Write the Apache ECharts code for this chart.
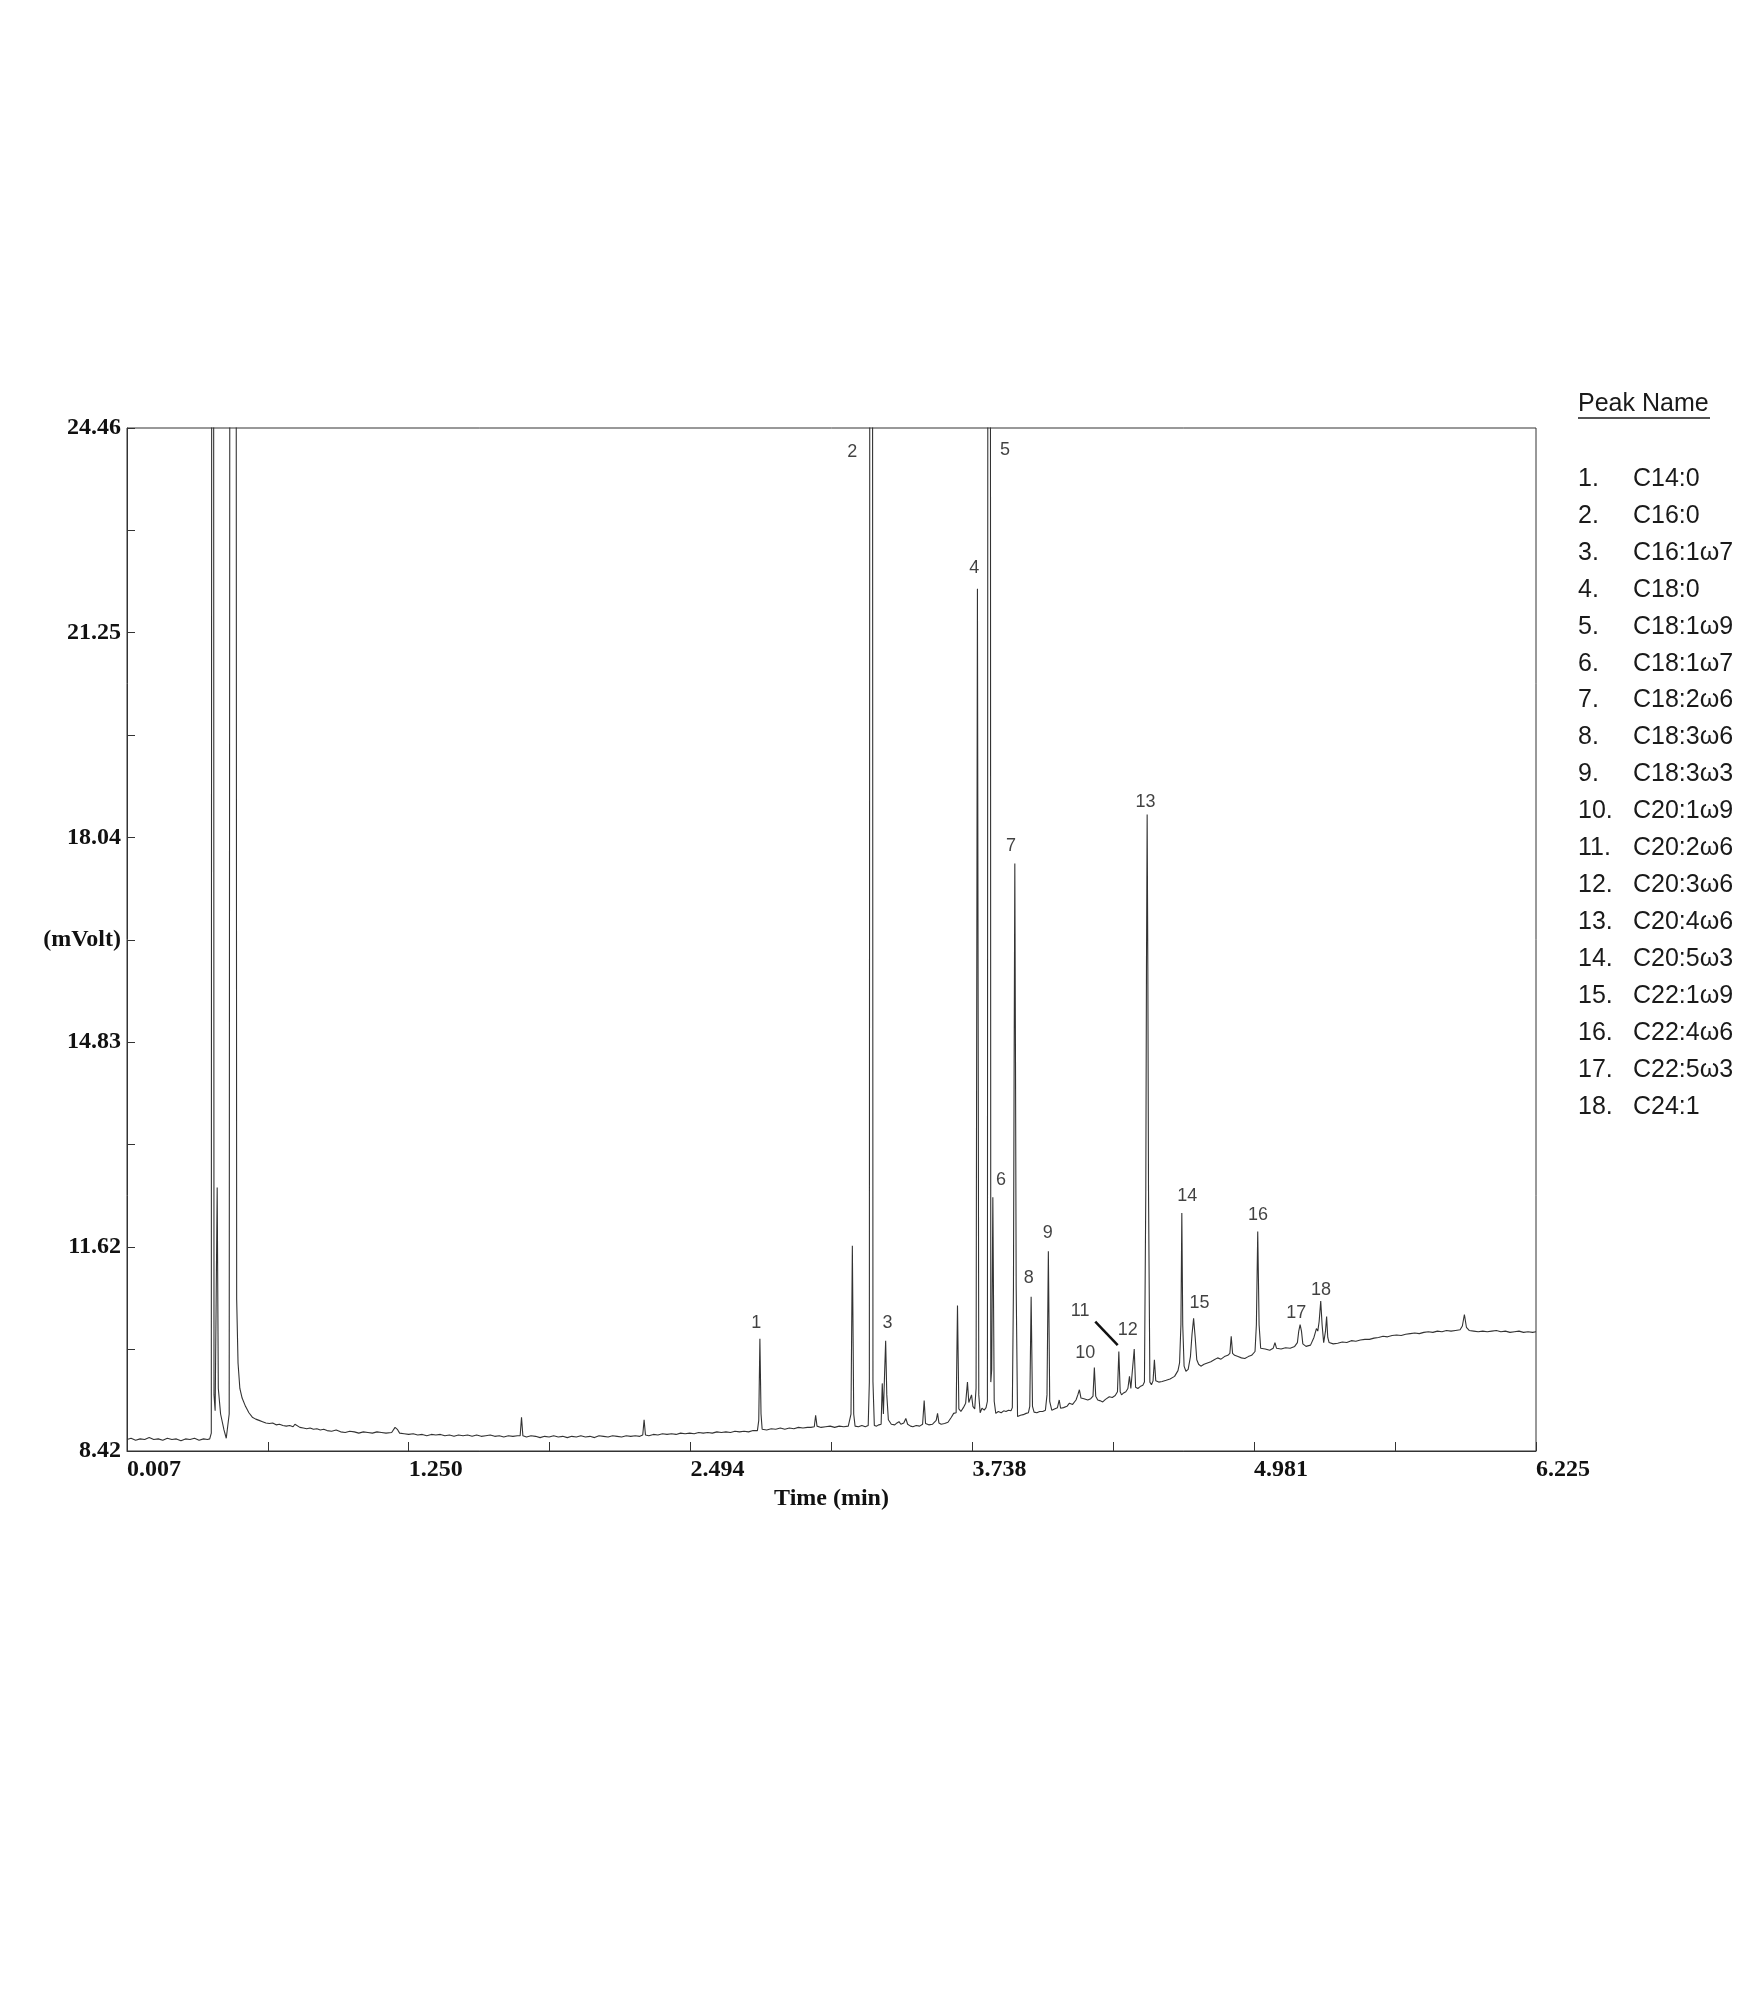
<!DOCTYPE html>
<html>
<head>
<meta charset="utf-8">
<script src="https://cdn.jsdelivr.net/npm/echarts@6/dist/echarts.min.js"></script>
<style>
  html, body { margin: 0; padding: 0; background: #ffffff; }
  #chart { width: 1750px; height: 2000px; }
</style>
</head>
<body>
<div id="chart"></div>
<script>
// ---------- DATA (time in min, signal in mVolt) ----------
// Injection / solvent front
const traceInjection = [
  [0.007,8.60],[0.025,8.62],[0.045,8.59],[0.065,8.61],[0.085,8.60],[0.105,8.63],[0.125,8.60],[0.145,8.61],
  [0.165,8.59],[0.185,8.62],[0.205,8.60],[0.225,8.61],[0.245,8.58],[0.265,8.61],[0.285,8.60],[0.305,8.62],
  [0.325,8.59],[0.345,8.61],[0.362,8.60],[0.372,8.61],
  [0.379,8.70],[0.385,70],[0.391,9.3],[0.396,9.05],[0.405,12.55],[0.410,9.4],[0.420,9.0],[0.435,8.75],
  [0.445,8.62],[0.458,9.0],[0.463,40],[0.475,90],[0.487,40],[0.491,10.8],[0.497,9.8],[0.505,9.4],
  [0.515,9.25],[0.53,9.12],[0.545,9.02],[0.56,8.95],[0.575,8.92],[0.59,8.90],[0.605,8.88],[0.62,8.86],
  [0.635,8.85],[0.65,8.86],[0.665,8.83],[0.68,8.84],[0.695,8.82],[0.71,8.81],[0.725,8.82],[0.740,8.80],
  [0.748,8.84],[0.756,8.82],[0.77,8.79],[0.785,8.78],[0.80,8.77],[0.815,8.78],[0.83,8.76],[0.845,8.77],
  [0.86,8.75],[0.875,8.76]
];
// Flat baseline before the FAME region
const traceBaseline = [
  [0.89,8.74],[0.91,8.73],[0.93,8.75],[0.95,8.72],[0.97,8.71],[0.99,8.73],[1.01,8.72],[1.03,8.70],
  [1.05,8.72],[1.07,8.71],[1.09,8.70],[1.11,8.72],[1.13,8.71],[1.15,8.70],[1.175,8.71],[1.19,8.79],
  [1.20,8.76],[1.21,8.70],[1.23,8.69],[1.25,8.68],[1.27,8.69],[1.29,8.67],[1.31,8.68],[1.33,8.66],
  [1.35,8.68],[1.37,8.67],[1.39,8.68],[1.41,8.66],[1.43,8.67],[1.45,8.65],[1.47,8.67],[1.49,8.66],
  [1.51,8.67],[1.53,8.65],[1.55,8.67],[1.57,8.65],[1.59,8.66],[1.61,8.67],[1.63,8.65],[1.65,8.66],
  [1.67,8.64],[1.69,8.66],[1.71,8.65],[1.73,8.66],[1.742,8.66],[1.748,8.95],[1.754,8.66],[1.77,8.64],
  [1.79,8.66],[1.81,8.65],[1.83,8.63],[1.85,8.65],[1.87,8.64],[1.89,8.66],[1.91,8.64],[1.93,8.65],
  [1.95,8.63],[1.97,8.65],[1.99,8.64],[2.01,8.66],[2.03,8.64],[2.05,8.65],[2.07,8.63],[2.09,8.66],
  [2.11,8.65],[2.13,8.64],[2.15,8.66],[2.17,8.65],[2.19,8.64],[2.21,8.66],[2.23,8.65],[2.25,8.66],
  [2.27,8.65],[2.283,8.67],[2.289,8.91],[2.295,8.67],[2.31,8.66],[2.33,8.68],[2.35,8.67],[2.37,8.69],
  [2.39,8.68],[2.41,8.69],[2.43,8.68],[2.45,8.70],[2.47,8.69],[2.49,8.70],[2.51,8.69],[2.53,8.71],
  [2.55,8.70],[2.57,8.71],[2.59,8.70],[2.61,8.72],[2.63,8.71],[2.65,8.72],[2.67,8.71],[2.69,8.73],
  [2.71,8.72],[2.73,8.73],[2.75,8.72],[2.77,8.74],[2.789,8.74]
];
// Peaks 1 - 4 region
const traceFameA = [
  [2.795,8.90],[2.800,10.18],[2.805,9.00],[2.810,8.76],[2.83,8.75],[2.85,8.77],[2.87,8.76],[2.89,8.78],
  [2.91,8.76],[2.93,8.78],[2.95,8.77],[2.97,8.79],[2.99,8.78],[3.01,8.79],[3.025,8.79],[3.040,8.80],
  [3.046,8.98],[3.052,8.81],[3.07,8.79],[3.09,8.80],[3.11,8.81],[3.13,8.79],[3.15,8.81],[3.17,8.80],
  [3.190,8.81],[3.202,9.00],[3.208,11.64],[3.214,9.00],[3.220,8.81],[3.235,8.80],[3.25,8.82],[3.265,8.80],
  [3.278,8.82],[3.283,9.5],[3.291,80],[3.299,9.5],[3.305,8.82],[3.315,8.81],[3.325,8.83],[3.335,8.84],
  [3.340,9.48],[3.345,9.00],[3.350,9.60],[3.355,10.15],[3.360,9.30],[3.367,8.91],[3.38,8.84],[3.395,8.83],
  [3.405,8.86],[3.414,8.88],[3.422,8.84],[3.435,8.86],[3.444,8.93],[3.452,8.84],[3.465,8.81],[3.475,8.80],
  [3.49,8.82],[3.505,8.81],[3.518,8.84],[3.525,9.21],[3.531,8.85],[3.545,8.83],[3.562,8.84],[3.578,8.90],
  [3.584,9.01],[3.590,8.86],[3.60,8.84],[3.615,8.85],[3.630,8.87],[3.645,8.95],[3.655,9.01],[3.666,9.02],
  [3.672,10.70],[3.678,9.08],[3.687,9.04],[3.698,9.10],[3.708,9.17],[3.716,9.50],[3.722,9.18],[3.728,9.15],
  [3.734,9.30],[3.740,9.12],[3.748,9.08],[3.754,9.40]
];
// Peaks 4 - 13 region
const traceFameB = [
  [3.760,21.94],[3.766,9.30],[3.772,9.02],[3.780,9.09],[3.790,9.06],[3.798,9.10],[3.804,9.20],[3.812,80],
  [3.819,9.50],[3.823,9.70],[3.828,12.40],[3.834,9.20],[3.841,9.01],[3.852,9.04],[3.865,9.02],[3.876,9.05],
  [3.886,9.04],[3.897,9.06],[3.908,9.05],[3.914,9.10],[3.919,11.0],[3.922,14.5],[3.925,17.63],[3.928,14.5],
  [3.931,11.0],[3.937,8.96],[3.950,8.98],[3.962,8.99],[3.975,9.01],[3.985,9.02],[3.991,9.12],[3.997,10.84],
  [4.003,9.12],[4.010,9.03],[4.022,9.02],[4.035,9.04],[4.048,9.04],[4.060,9.06],[4.067,9.30],[4.073,11.55],
  [4.079,9.20],[4.088,9.06],[4.100,9.08],[4.113,9.10],[4.121,9.22],[4.127,9.09],[4.140,9.10],[4.155,9.12],
  [4.166,9.17],[4.180,9.15],[4.195,9.22],[4.203,9.30],[4.210,9.38],[4.217,9.25],[4.230,9.24],[4.247,9.22],
  [4.260,9.24],[4.270,9.28],[4.276,9.73],[4.282,9.28],[4.291,9.22],[4.300,9.21],[4.313,9.19],[4.325,9.23],
  [4.342,9.27],[4.355,9.26],[4.368,9.29],[4.378,9.35],[4.384,9.98],[4.390,9.35],[4.396,9.30],[4.405,9.33],
  [4.415,9.35],[4.424,9.40],[4.431,9.59],[4.437,9.40],[4.445,9.42],[4.452,10.02],[4.458,9.42],[4.468,9.40],
  [4.478,9.43],[4.490,9.45],[4.497,9.50],[4.503,12.5],[4.506,16.0],[4.509,18.40],[4.512,16.0],[4.515,12.5],
  [4.521,9.50]
];
// Peaks 14 - 18 region
const traceFameC = [
  [4.528,9.46],[4.535,9.52],[4.541,9.85],[4.547,9.52],[4.560,9.50],[4.575,9.51],[4.593,9.53],[4.610,9.55],
  [4.630,9.59],[4.645,9.68],[4.652,9.80],[4.658,10.40],[4.662,12.15],[4.666,10.40],[4.672,9.75],[4.680,9.67],
  [4.690,9.70],[4.700,9.90],[4.707,10.25],[4.714,10.50],[4.721,10.20],[4.728,9.85],[4.736,9.78],[4.746,9.75],
  [4.760,9.78],[4.775,9.80],[4.790,9.82],[4.805,9.85],[4.820,9.88],[4.835,9.86],[4.850,9.90],[4.865,9.92],
  [4.874,9.95],[4.880,10.22],[4.886,9.95],[4.895,9.92],[4.910,9.90],[4.925,9.88],[4.940,9.87],[4.955,9.90],
  [4.970,9.92],[4.985,9.98],[4.991,10.40],[4.997,11.86],[5.003,10.40],[5.010,10.03],[5.030,10.02],[5.050,10.00],
  [5.065,10.03],[5.073,10.12],[5.080,10.03],[5.100,10.02],[5.120,10.04],[5.140,10.03],[5.160,10.06],[5.172,10.12],
  [5.178,10.30],[5.184,10.40],[5.190,10.30],[5.196,10.10],[5.210,10.06],[5.230,10.08],[5.245,10.20],[5.256,10.34],
  [5.262,10.30],[5.268,10.45],[5.275,10.77],[5.281,10.40],[5.288,10.12],[5.296,10.30],[5.301,10.53],[5.306,10.20],
  [5.312,10.12],[5.330,10.10]
];
// Late baseline
const traceTail = [
  [5.35,10.11],[5.37,10.13],[5.39,10.12],[5.41,10.15],[5.43,10.14],[5.45,10.16],[5.47,10.17],[5.49,10.17],
  [5.51,10.19],[5.53,10.20],[5.55,10.22],[5.57,10.21],[5.59,10.23],[5.61,10.24],[5.63,10.23],[5.65,10.25],
  [5.67,10.26],[5.69,10.27],[5.71,10.26],[5.73,10.28],[5.75,10.29],[5.77,10.28],[5.79,10.30],[5.81,10.29],
  [5.83,10.31],[5.85,10.30],[5.87,10.31],[5.890,10.32],[5.900,10.38],[5.909,10.56],[5.918,10.36],[5.93,10.31],
  [5.95,10.30],[5.97,10.29],[5.99,10.30],[6.01,10.29],[6.03,10.30],[6.05,10.31],[6.07,10.29],[6.09,10.30],
  [6.11,10.28],[6.13,10.29],[6.15,10.30],[6.17,10.28],[6.19,10.29],[6.21,10.28],[6.225,10.29]
];

// Peak number labels (placed in data coordinates)
const peakIds = ['1','2','3','4','5','6','7','8','9','10','11','12','13','14','15','16','17','18'];
const peakLabelTime = [2.784, 3.208, 3.363, 3.746, 3.882, 3.864, 3.908, 3.986, 4.070, 4.236, 4.213, 4.423, 4.502, 4.686, 4.740, 4.998, 5.167, 5.276];
const peakLabelSignal = [10.43, 24.08, 10.43, 22.26, 24.11, 12.67, 17.90, 11.13, 11.83, 9.95, 10.62, 10.32, 18.59, 12.41, 10.74, 12.12, 10.58, 10.94];
// Leader line from label 11 to its peak
const leader11 = [[4.280, 10.45], [4.379, 10.08]];

// Peak name table
const peakNames = ['C14:0','C16:0','C16:1\u03c97','C18:0','C18:1\u03c99','C18:1\u03c97','C18:2\u03c96','C18:3\u03c96',
  'C18:3\u03c93','C20:1\u03c99','C20:2\u03c96','C20:3\u03c96','C20:4\u03c96','C20:5\u03c93','C22:1\u03c99',
  'C22:4\u03c96','C22:5\u03c93','C24:1'];

// Axis ticks
const xTickLabels = [0.007, 1.250, 2.494, 3.738, 4.981, 6.225];
const xTickMarks = [0.007, 0.6285, 1.250, 1.872, 2.494, 3.116, 3.738, 4.3595, 4.981, 5.603, 6.225];
const yTickLabels = [8.42, 11.62, 14.83, 16.435, 18.04, 21.25, 24.46];
const yTickMarks = [8.42, 10.02, 11.62, 13.225, 14.83, 16.435, 18.04, 19.645, 21.25, 22.855, 24.46];
const yUnitTick = 16.435;

// ---------- CHART ----------
const trace = [].concat(traceInjection, traceBaseline, traceFameA, traceFameB, traceFameC, traceTail);
const labelData = peakIds.map((id, i) => [peakLabelTime[i], peakLabelSignal[i], id]);

const axisColor = '#333333';
const serifBold = { fontFamily: '"Liberation Serif", "Times New Roman", serif', fontWeight: 'bold', fontSize: 24, color: '#111111' };
const sans = '"Liberation Sans", Arial, sans-serif';

const graphics = [];
graphics.push({ type: 'text', x: 1578, y: 404, style: { text: 'Peak Name', fontFamily: sans, fontSize: 25, fill: '#1a1a1a', verticalAlign: 'middle', align: 'left' } });
graphics.push({ type: 'line', shape: { x1: 1578, y1: 418, x2: 1710, y2: 418 }, style: { stroke: '#1a1a1a', lineWidth: 1.5 } });
peakNames.forEach((n, i) => {
  const y = 479 + i * 36.93;
  graphics.push({ type: 'text', x: 1578, y: y, style: { text: (i + 1) + '.', fontFamily: sans, fontSize: 25, fill: '#1a1a1a', verticalAlign: 'middle', align: 'left' } });
  graphics.push({ type: 'text', x: 1633, y: y, style: { text: n, fontFamily: sans, fontSize: 25, fill: '#1a1a1a', verticalAlign: 'middle', align: 'left' } });
});

const chart = echarts.init(document.getElementById('chart'), null, { renderer: 'canvas' });
chart.setOption({
  animation: false,
  backgroundColor: '#ffffff',
  grid: { left: 127, top: 428, width: 1409, height: 1023, show: true, borderColor: axisColor, borderWidth: 1, backgroundColor: 'transparent', containLabel: false },
  xAxis: {
    type: 'value', min: 0.007, max: 6.225,
    name: 'Time (min)', nameLocation: 'middle', nameGap: 31,
    nameTextStyle: Object.assign({}, serifBold),
    axisLine: { show: true, onZero: false, lineStyle: { color: axisColor, width: 1 } },
    axisTick: { show: true, inside: true, length: 9, customValues: xTickMarks, lineStyle: { color: axisColor, width: 1 } },
    axisLabel: Object.assign({ show: true, customValues: xTickLabels, align: 'left', margin: 7, formatter: v => Number(v).toFixed(3) }, serifBold),
    splitLine: { show: false }
  },
  yAxis: {
    type: 'value', min: 8.42, max: 24.46,
    axisLine: { show: true, onZero: false, lineStyle: { color: axisColor, width: 1 } },
    axisTick: { show: true, inside: true, length: 8, customValues: yTickMarks, lineStyle: { color: axisColor, width: 1 } },
    axisLabel: Object.assign({ show: true, customValues: yTickLabels, margin: 6,
      formatter: v => Math.abs(v - yUnitTick) < 1e-6 ? '(mVolt)' : Number(v).toFixed(2) }, serifBold),
    splitLine: { show: false }
  },
  series: [
    {
      type: 'line', data: trace, showSymbol: false, symbol: 'none', sampling: null, clip: true,
      lineStyle: { color: '#333333', width: 1.1 }, z: 2
    },
    {
      type: 'line', data: leader11, showSymbol: false, symbol: 'none', clip: false,
      lineStyle: { color: '#111111', width: 2.5 }, z: 3
    },
    {
      type: 'scatter', data: labelData, symbolSize: 1, clip: false,
      itemStyle: { color: 'transparent' },
      label: { show: true, position: 'inside', formatter: p => p.data[2], fontFamily: sans, fontSize: 18, color: '#111111' },
      z: 4
    }
  ],
  graphic: graphics
});
</script>
</body>
</html>
